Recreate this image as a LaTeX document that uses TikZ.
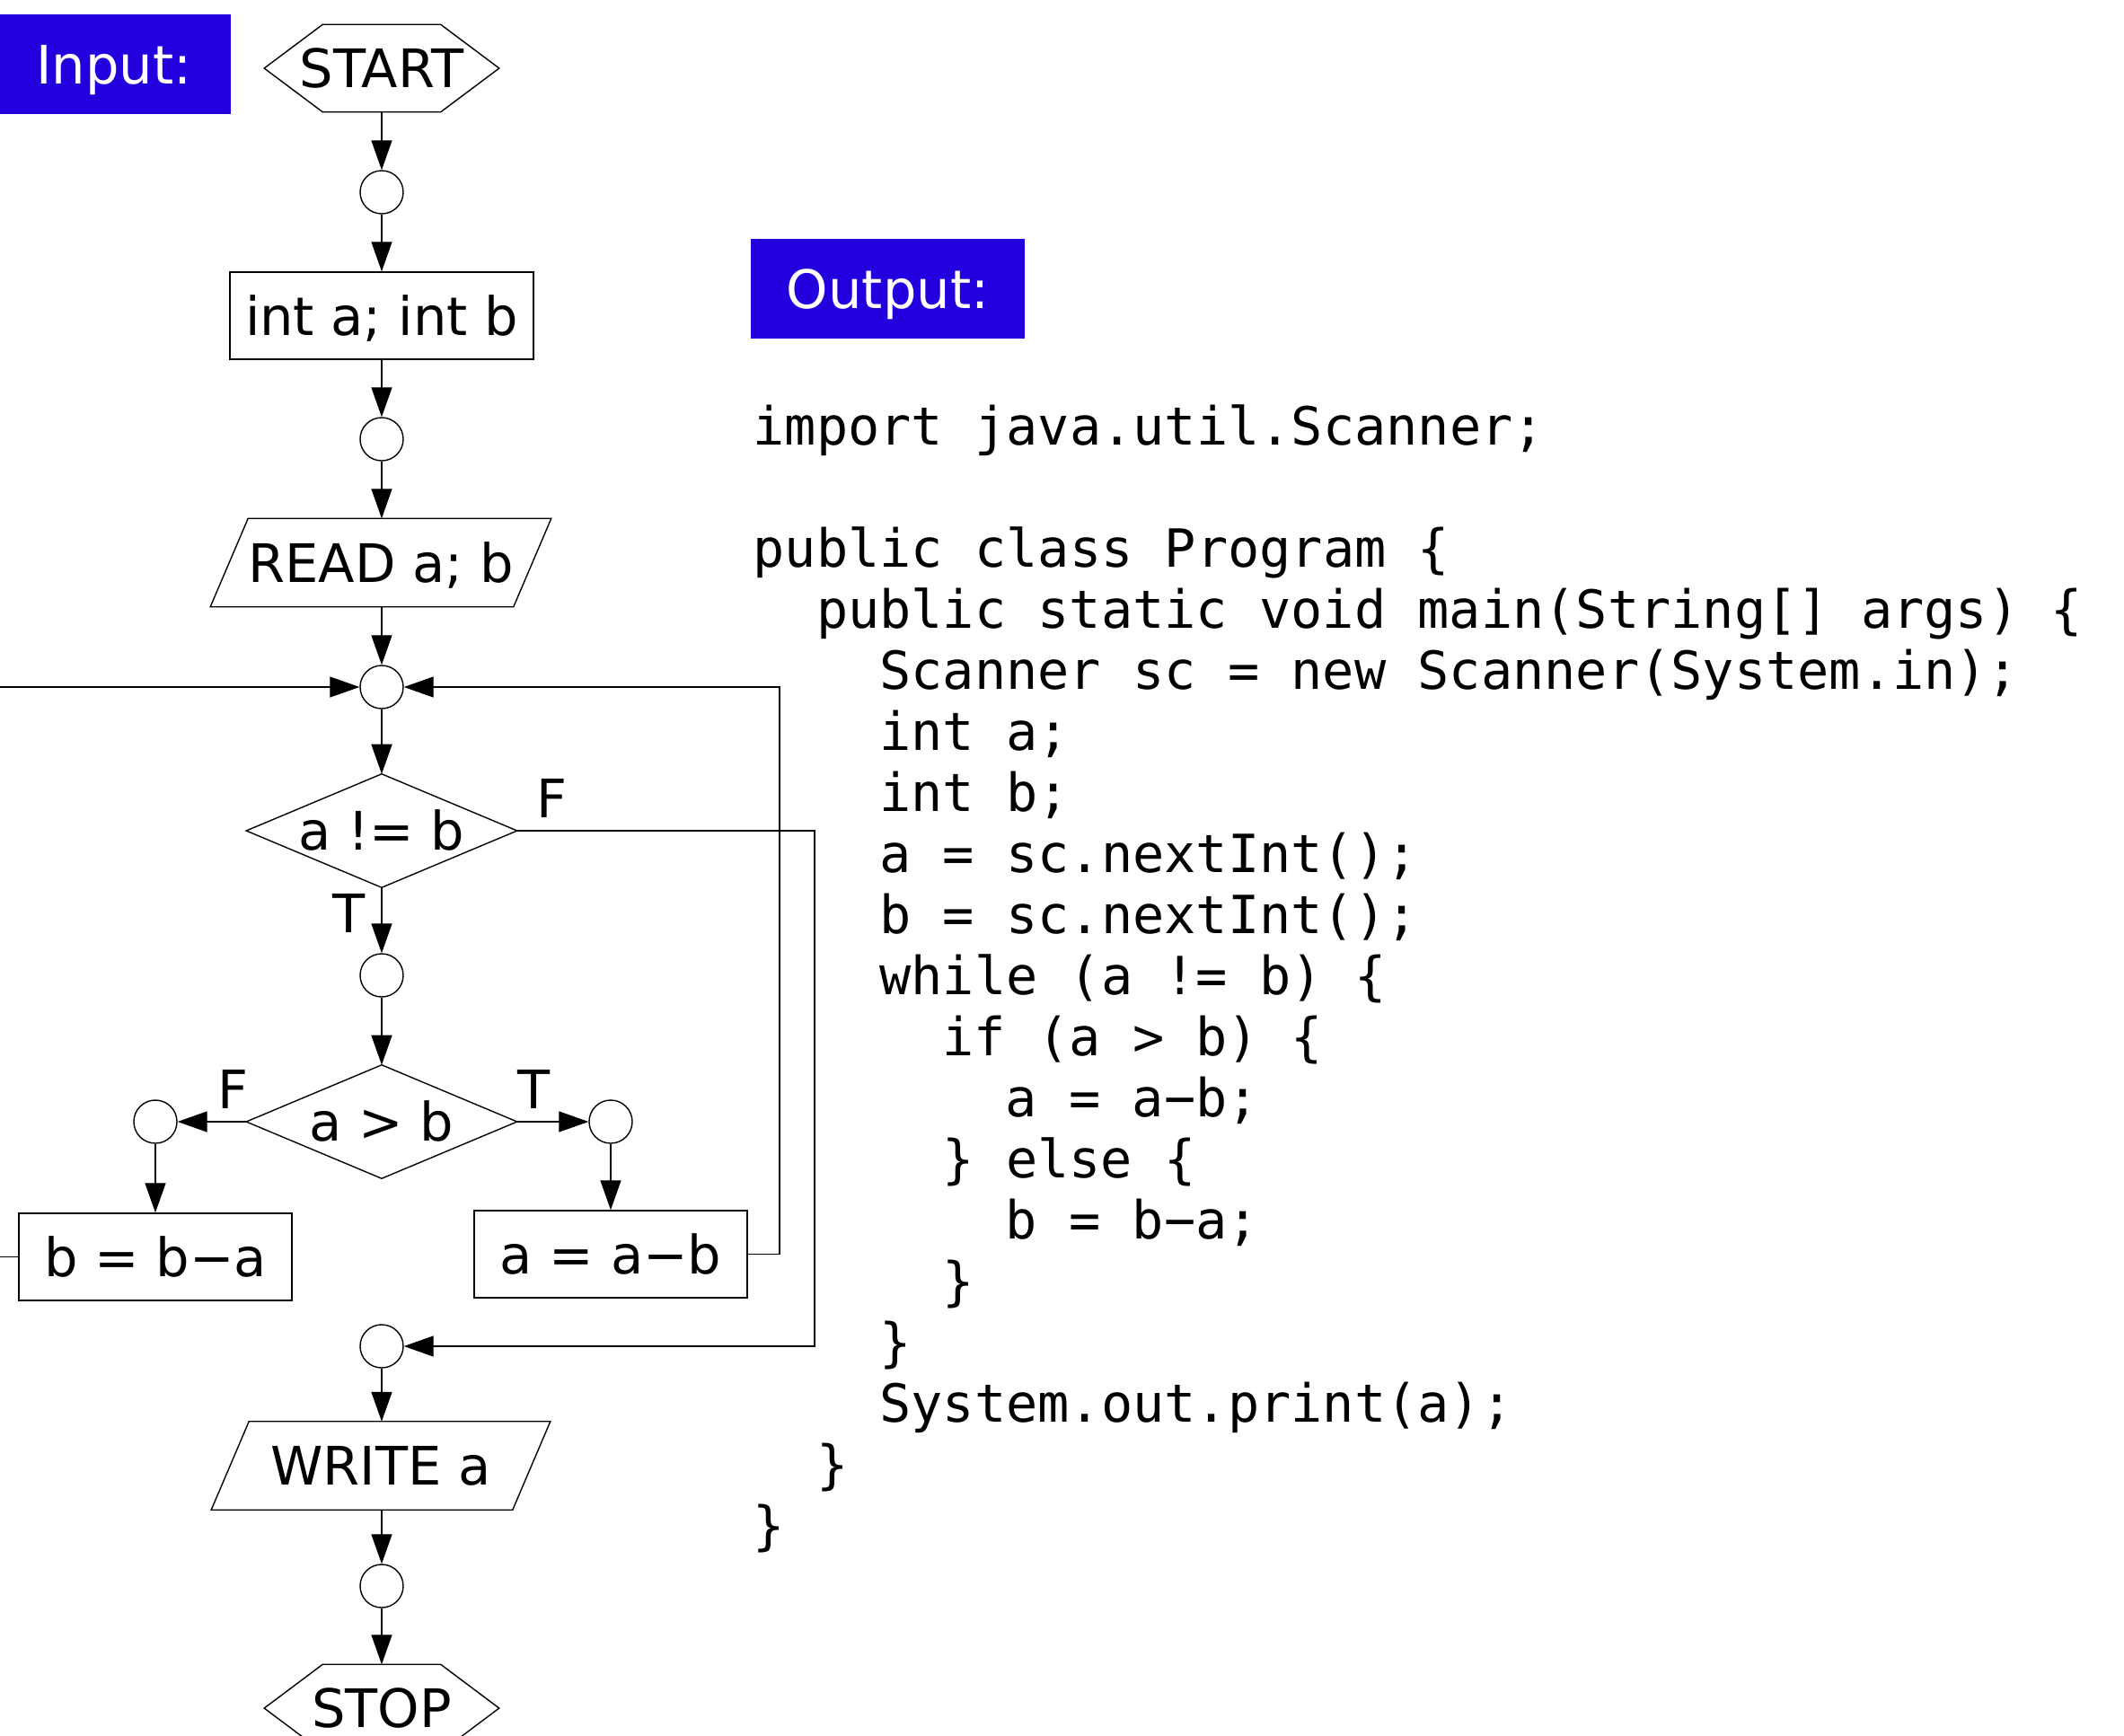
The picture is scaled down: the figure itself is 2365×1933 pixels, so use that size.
\documentclass[tikz,border=0pt]{standalone}
\usepackage{fontspec}
\setmainfont{DejaVu Sans}
\setmonofont{DejaVu Sans Mono}
\usetikzlibrary{arrows.meta}
\definecolor{tagblue}{RGB}{34,0,221}
\begin{document}
\begin{tikzpicture}[x=0.01cm, y=-0.01cm,
  every node/.style={font=\fontsize{16.8pt}{20pt}\selectfont, inner sep=0pt},
  outline/.style={line width=0.4pt},
  arr/.style={line width=0.4pt, -{Triangle[length=0.33cm,width=0.23cm]}},
  joint/.style={circle, draw, line width=0.4pt, minimum size=0.48cm},
  procbox/.style={rectangle, draw, line width=0.4pt, minimum width=3.04cm,
    minimum height=0.97cm, text height=0.43cm, text depth=0pt},
  shapebox/.style={rectangle, minimum height=0.97cm, text height=0.43cm, text depth=0pt},
  termbox/.style={rectangle, minimum width=2.6cm, minimum height=0.96cm,
    text height=0.43cm, text depth=0pt},
  decbox/.style={rectangle, minimum width=3.0cm, minimum height=1.25cm,
    text height=0.43cm, text depth=0pt},
  tag/.style={rectangle, fill=tagblue, text=white, minimum height=1.11cm,
    text height=0.43cm, text depth=0pt},
  branch/.style={text height=0.43cm, text depth=0pt},
  code/.style={anchor=base west, font=\ttfamily\fontsize{16.65pt}{20pt}\selectfont}
]
\useasboundingbox (0,0) rectangle (2365,1933);
\clip (0,0) rectangle (2365,1933);

% headings
\node[tag, minimum width=2.59cm] (intag) at (127,71.5) {Input:};
\node[tag, minimum width=3.05cm] (outtag) at (988.5,321.5) {Output:};

% flowchart nodes
\node[termbox] (start) at (425,76) {START};
\node[joint] (c1) at (425,214) {};
\node[procbox, minimum width=3.38cm] (decl) at (425,351.5) {int a; int b};
\node[joint] (c2) at (425,489) {};
\node[shapebox, minimum width=3.36cm] (read) at (424,626.5) {READ a; b};
\node[joint] (c3) at (425,765) {};
\node[decbox] (d1) at (425,925) {a != b};
\node[joint] (c4) at (425,1086) {};
\node[decbox] (d2) at (425,1249) {a > b};
\node[joint] (cl) at (173,1249) {};
\node[joint] (cr) at (680,1249) {};
\node[procbox] (subb) at (173,1399.5) {b = b−a};
\node[procbox] (suba) at (680,1396.5) {a = a−b};
\node[joint] (c5) at (425,1499) {};
\node[shapebox, minimum width=3.34cm] (write) at (424,1632) {WRITE a};
\node[joint] (c6) at (425,1766) {};
\node[termbox] (stop) at (425,1902) {STOP};

% outlines of terminals, input/output and decisions
\foreach \t in {start,stop}
  \draw[outline] ([xshift=0.65cm]\t.north west) -- ([xshift=-0.65cm]\t.north east)
    -- (\t.east) -- ([xshift=-0.65cm]\t.south east) -- ([xshift=0.65cm]\t.south west)
    -- (\t.west) -- cycle;
\foreach \p in {read,write}
  \draw[outline] ([xshift=0.21cm]\p.north west) -- ([xshift=0.21cm]\p.north east)
    -- ([xshift=-0.21cm]\p.south east) -- ([xshift=-0.21cm]\p.south west) -- cycle;
\foreach \d in {d1,d2}
  \draw[outline] (\d.north) -- (\d.east) -- (\d.south) -- (\d.west) -- cycle;

% branch labels
\node[branch] (f1) at (614,889) {F};
\node[branch] (t1) at (389,1017) {T};
\node[branch] (f2) at (259,1213) {F};
\node[branch] (t2) at (595,1213) {T};

% loop corners
\coordinate (rloop) at (868,765);
\coordinate (floop) at (907,1499);
\coordinate (lloop) at (-60,765);

% connectors
\draw[arr] (start.south) -- (c1.north);
\draw[arr] (c1.south) -- (decl.north);
\draw[arr] (decl.south) -- (c2.north);
\draw[arr] (c2.south) -- (c2.south |- read.north);
\draw[arr] (c2.south |- read.south) -- (c3.north);
\draw[arr] (c3.south) -- (d1.north);
\draw[arr] (d1.south) -- (c4.north);
\draw[arr] (c4.south) -- (d2.north);
\draw[arr] (d2.west) -- (cl.east);
\draw[arr] (d2.east) -- (cr.west);
\draw[arr] (cl.south) -- (subb.north);
\draw[arr] (cr.south) -- (suba.north);
\draw[arr] (suba.east) -| (rloop) -- (c3.east);
\draw[arr] (subb.west) -| (lloop) -- (c3.west);
\draw[arr] (d1.east) -| (floop) -- (c5.east);
\draw[arr] (c5.south) -- (c5.south |- write.north);
\draw[arr] (c5.south |- write.south) -- (c6.north);
\draw[arr] (c6.south) -- (stop.north);

% program text
\node[code] (l0) at (838,495) {import java.util.Scanner;};
\node[code] (l2) at (838,631) {public class Program \{};
\node[code] (l3) at (908.3,699) {public static void main(String[] args) \{};
\node[code] (l4) at (978.6,767) {Scanner sc = new Scanner(System.in);};
\node[code] (l5) at (978.6,835) {int a;};
\node[code] (l6) at (978.6,903) {int b;};
\node[code] (l7) at (978.6,971) {a = sc.nextInt();};
\node[code] (l8) at (978.6,1039) {b = sc.nextInt();};
\node[code] (l9) at (978.6,1107) {while (a != b) \{};
\node[code] (l10) at (1048.9,1175) {if (a > b) \{};
\node[code] (l11) at (1119.2,1243) {a = a−b;};
\node[code] (l12) at (1048.9,1311) {\} else \{};
\node[code] (l13) at (1119.2,1379) {b = b−a;};
\node[code] (l14) at (1048.9,1447) {\}};
\node[code] (l15) at (978.6,1515) {\}};
\node[code] (l16) at (978.6,1583) {System.out.print(a);};
\node[code] (l17) at (908.3,1651) {\}};
\node[code] (l18) at (838,1719) {\}};
\end{tikzpicture}
\end{document}
